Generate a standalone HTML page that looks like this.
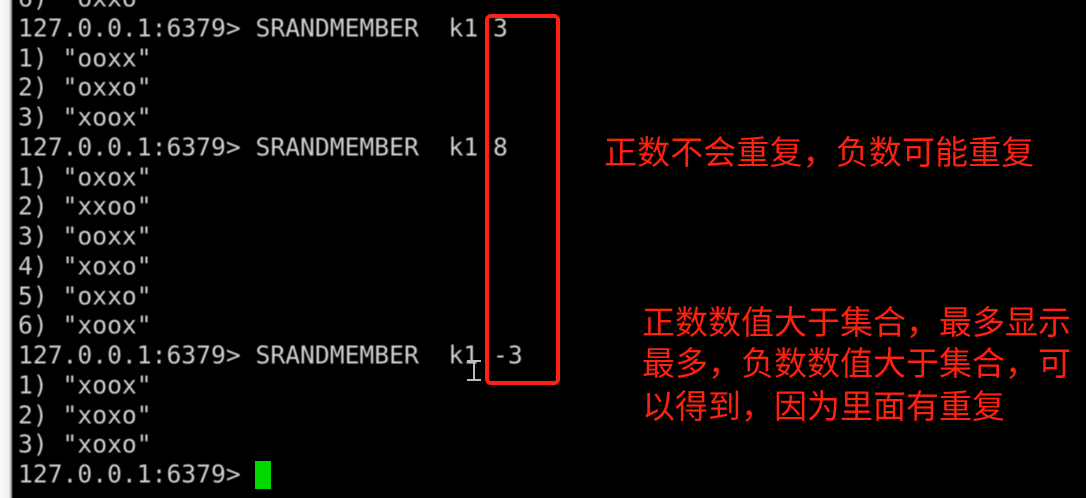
<!DOCTYPE html>
<html><head><meta charset="utf-8"><style>
html,body{margin:0;padding:0;background:#000}
body{position:relative;width:1086px;height:498px;overflow:hidden}
#strip{position:absolute;left:0;top:0;width:13px;height:498px;background:linear-gradient(90deg,#fafafa 0,#f0f0f0 9px,#b0b0b0 11px,#555 12px,#000 13px)}
.t{position:absolute;left:18px;white-space:pre;font:24.66px/30px "DejaVu Sans Mono",monospace;color:#d0d0d0;filter:blur(.5px);transform:translateY(-.5px)}
.r{position:absolute;white-space:pre;font:33px/42px "Noto Sans CJK SC","WenQuanYi Zen Hei",sans-serif;color:#ff2010}
#box{position:absolute;left:485px;top:14px;width:67px;height:363px;border:4px solid #ff2010;border-radius:6px}
#cur{position:absolute;left:255px;top:461px;width:16px;height:28px;background:#00d800}
#ib{position:absolute;left:467px;top:360px;width:14px;height:21px}
</style></head><body>
<div id="strip"></div>
<div class="t" style="top:-16px">6) "oxxo"</div>
<div class="t" style="top:14px">127.0.0.1:6379&gt; SRANDMEMBER  k1 3</div>
<div class="t" style="top:44px">1) "ooxx"</div>
<div class="t" style="top:73px">2) "oxxo"</div>
<div class="t" style="top:103px">3) "xoox"</div>
<div class="t" style="top:133px">127.0.0.1:6379&gt; SRANDMEMBER  k1 8</div>
<div class="t" style="top:163px">1) "oxox"</div>
<div class="t" style="top:192px">2) "xxoo"</div>
<div class="t" style="top:222px">3) "ooxx"</div>
<div class="t" style="top:252px">4) "xoxo"</div>
<div class="t" style="top:282px">5) "oxxo"</div>
<div class="t" style="top:311px">6) "xoox"</div>
<div class="t" style="top:341px">127.0.0.1:6379&gt; SRANDMEMBER  k1 -3</div>
<div class="t" style="top:371px">1) "xoox"</div>
<div class="t" style="top:401px">2) "xoxo"</div>
<div class="t" style="top:430px">3) "xoxo"</div>
<div class="t" style="top:460px">127.0.0.1:6379&gt;</div>
<div id="cur"></div>
<div id="box"></div>
<svg id="ib" viewBox="0 0 14 21"><path d="M0 1H14M7 1V20M0 20H14" stroke="#bbb" stroke-width="2" fill="none"/></svg>
<div class="r" style="left:604px;top:129px;letter-spacing:.1px">正数不会重复，负数可能重复</div>
<div class="r" style="left:642px;top:299px">正数数值大于集合，最多显示</div>
<div class="r" style="left:642px;top:340px">最多，负数数值大于集合，可</div>
<div class="r" style="left:642px;top:383px">以得到，因为里面有重复</div>
</body></html>
